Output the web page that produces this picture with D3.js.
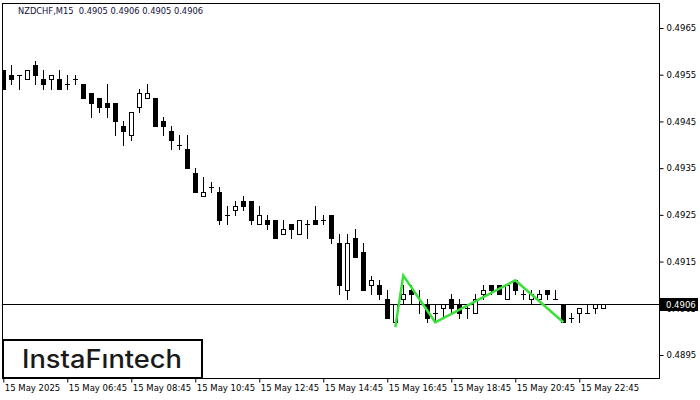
<!DOCTYPE html>
<html><head><meta charset="utf-8">
<script src="https://cdn.jsdelivr.net/npm/d3@7"></script>
<style>body{margin:0;background:#fff} svg{display:block}</style>
</head><body>
<svg id="c" width="700" height="400"></svg>
<script>
const titleText = "NZDCHF,M15  0.4905 0.4906 0.4905 0.4906";
const openP = [0.4956,0.4955,0.4955,0.4954,0.4957,0.4954,0.4954,0.4954,0.4953,0.4954,
0.4953,0.4951,0.4950,0.4949,0.4949,0.4944,0.4942,0.4948,0.4950,0.4950,
0.4945,0.4943,0.4940,0.4939,0.4934,0.4929,0.4931,0.4930,0.4925,0.4926,
0.4928,0.4928,0.4923,0.4924,0.4924,0.4921,0.4923,0.4921,0.4923,0.4924,
0.4924,0.4925,0.4919,0.4909,0.4920,0.4917,0.4910,0.4910,0.4907,0.4902,
0.4907,0.4909,0.4906,0.4906,0.4904,0.4905,0.4907,0.4906,0.4905,0.4904,
0.4908,0.4910,0.4910,0.4907,0.4911,0.4908,0.4907,0.4907,0.4909,0.4907,
0.4906,0.4903,0.4904,0.4904,0.4905,0.4905];
const highP = [0.4956,0.4957,0.4955,0.4956,0.4958,0.4956,0.4955,0.4956,0.4955,0.4955,
0.4953,0.4951,0.4950,0.4953,0.4949,0.4945,0.4947,0.4952,0.4953,0.4950,
0.4946,0.4944,0.4942,0.4942,0.4935,0.4933,0.4932,0.4931,0.4927,0.4928,
0.4929,0.4928,0.4927,0.4925,0.4924,0.4924,0.4923,0.4924,0.4924,0.4927,
0.4925,0.4925,0.4921,0.4921,0.4922,0.4919,0.4912,0.4911,0.4909,0.4906,
0.4910,0.4910,0.4909,0.4907,0.4906,0.4906,0.4908,0.4907,0.4906,0.4908,
0.4910,0.4910,0.4910,0.4910,0.4911,0.4909,0.4909,0.4909,0.4909,0.4909,
0.4906,0.4904,0.4905,0.4906,0.4906,0.4906];
const lowP = [0.4952,0.4953,0.4952,0.4954,0.4953,0.4952,0.4952,0.4952,0.4952,0.4953,
0.4950,0.4946,0.4947,0.4946,0.4942,0.4940,0.4941,0.4947,0.4950,0.4944,
0.4942,0.4939,0.4939,0.4935,0.4930,0.4929,0.4930,0.4923,0.4923,0.4925,
0.4926,0.4923,0.4923,0.4922,0.4920,0.4921,0.4920,0.4921,0.4920,0.4923,
0.4923,0.4919,0.4908,0.4907,0.4916,0.4909,0.4908,0.4907,0.4903,0.4902,
0.4906,0.4906,0.4904,0.4902,0.4902,0.4903,0.4904,0.4903,0.4903,0.4904,
0.4907,0.4908,0.4908,0.4907,0.4908,0.4907,0.4906,0.4907,0.4907,0.4907,
0.4902,0.4902,0.4902,0.4904,0.4904,0.4905];
const closeP = [0.4952,0.4954,0.4955,0.4956,0.4955,0.4953,0.4955,0.4952,0.4953,0.4954,
0.4950,0.4949,0.4948,0.4948,0.4945,0.4943,0.4947,0.4951,0.4951,0.4944,
0.4944,0.4941,0.4940,0.4935,0.4930,0.4930,0.4931,0.4924,0.4925,0.4927,
0.4927,0.4924,0.4925,0.4923,0.4920,0.4922,0.4922,0.4924,0.4923,0.4923,
0.4924,0.4920,0.4910,0.4919,0.4916,0.4909,0.4911,0.4908,0.4903,0.4906,
0.4908,0.4908,0.4906,0.4903,0.4904,0.4906,0.4905,0.4904,0.4905,0.4907,
0.4909,0.4909,0.4908,0.4910,0.4909,0.4908,0.4908,0.4908,0.4908,0.4907,
0.4902,0.4903,0.4905,0.4904,0.4906,0.4906];
const timeTickIdx = [0,8,16,24,32,40,48,56,64,72];
const timeTickLabels = ["15 May 2025","15 May 06:45","15 May 08:45","15 May 10:45","15 May 12:45",
  "15 May 14:45","15 May 16:45","15 May 18:45","15 May 20:45","15 May 22:45"];
const priceTicks = [0.4895,0.4905,0.4915,0.4925,0.4935,0.4945,0.4955,0.4965];
const lastPrice = 0.4906;
const patternIdx = [49,50,54,64,70];
const patternPrice = [0.4901,0.4912,0.4902,0.4911,0.4902];

const svg = d3.select("#c");
const L = 2, R = 659, T = 3, B = 378;
const x = d3.scaleLinear().domain([0, 75]).range([3.3, 603.3]);
const y = d3.scaleLinear().domain([0.4895, 0.4965]).range([355, 28]);
const font = "DejaVu Sans, Verdana, sans-serif";

svg.append("defs").append("clipPath").attr("id","clip")
  .append("rect").attr("x",L).attr("y",T).attr("width",R-L).attr("height",B-T);

// title
svg.append("text").attr("x",18).attr("y",14).attr("font-family",font).attr("font-size",9)
  .attr("fill","#10103a").attr("textLength",185).attr("lengthAdjust","spacingAndGlyphs")
  .attr("xml:space","preserve").text(titleText);

const plot = svg.append("g").attr("clip-path","url(#clip)");

// last price line
plot.append("line").attr("x1",L).attr("x2",R)
  .attr("y1",Math.round(y(lastPrice))+0.5).attr("y2",Math.round(y(lastPrice))+0.5)
  .attr("stroke","#000").attr("stroke-width",1);

const bars = d3.range(openP.length);
const g = plot.append("g");
bars.forEach(i => {
  const cx = Math.round(x(i));
  const o = openP[i], c = closeP[i];
  g.append("line").attr("x1",cx+0.5).attr("x2",cx+0.5)
    .attr("y1",Math.round(y(highP[i]))).attr("y2",Math.round(y(lowP[i]))+1)
    .attr("stroke","#000").attr("stroke-width",1);
  const yt = Math.round(y(Math.max(o,c))), yb = Math.round(y(Math.min(o,c)));
  if (c < o) {
    g.append("rect").attr("x",cx-2).attr("y",yt).attr("width",5).attr("height",yb-yt+1).attr("fill","#000");
  } else if (c > o) {
    g.append("rect").attr("x",cx-1.5).attr("y",yt+0.5).attr("width",4).attr("height",yb-yt)
      .attr("fill","#fff").attr("stroke","#000").attr("stroke-width",1);
  } else {
    g.append("line").attr("x1",cx-2).attr("x2",cx+3).attr("y1",yt+0.5).attr("y2",yt+0.5)
      .attr("stroke","#000").attr("stroke-width",1);
  }
});

// pattern line
plot.append("path")
  .datum(patternIdx.map((d,i)=>[d, patternPrice[i]]))
  .attr("d", d3.line().x(d=>x(d[0])).y(d=>y(d[1])))
  .attr("fill","none").attr("stroke","#3ce03c").attr("stroke-width",2.5).attr("stroke-linejoin","miter");

// frame
svg.append("rect").attr("x",L+0.5).attr("y",T+0.5).attr("width",R-L).attr("height",B-T)
  .attr("fill","none").attr("stroke","#000").attr("stroke-width",1);

// right axis
const ya = svg.append("g").attr("transform",`translate(${R+0.5},0)`)
  .call(d3.axisRight(y).tickValues(priceTicks).tickSize(4).tickPadding(3).tickFormat(d3.format(".4f")));
ya.select(".domain").remove();
ya.selectAll("text").attr("font-family",font).attr("font-size",8.5).attr("fill","#000");

// last price label
const ly = Math.round(y(lastPrice));
svg.append("rect").attr("x",R+1).attr("y",ly-6).attr("width",38).attr("height",13).attr("fill","#000");
svg.append("text").attr("x",R+7).attr("y",ly+4).attr("font-family",font).attr("font-size",8.5)
  .attr("fill","#fff").text(d3.format(".4f")(lastPrice));

// bottom axis
const xa = svg.append("g").attr("transform",`translate(0,${B+0.5})`)
  .call(d3.axisBottom(x).tickValues(timeTickIdx).tickSize(4).tickPadding(2)
    .tickFormat((d,i)=>timeTickLabels[i]));
xa.select(".domain").remove();
xa.selectAll(".tick line").attr("transform","translate(0,0)");
xa.selectAll("text").attr("font-family",font).attr("font-size",8.5).attr("fill","#000")
  .attr("text-anchor","start").attr("x",1);

// logo
svg.append("rect").attr("x",3).attr("y",340).attr("width",199).attr("height",38)
  .attr("fill","#fff").attr("stroke","#000").attr("stroke-width",2);
svg.append("text").attr("x",22).attr("y",368).attr("font-family","Inter, Lato, sans-serif")
  .attr("font-weight",500).attr("font-size",25).attr("fill","#1a1a1a")
  .attr("textLength",160).attr("lengthAdjust","spacingAndGlyphs").text("InstaFıntech");
</script>
</body></html>
